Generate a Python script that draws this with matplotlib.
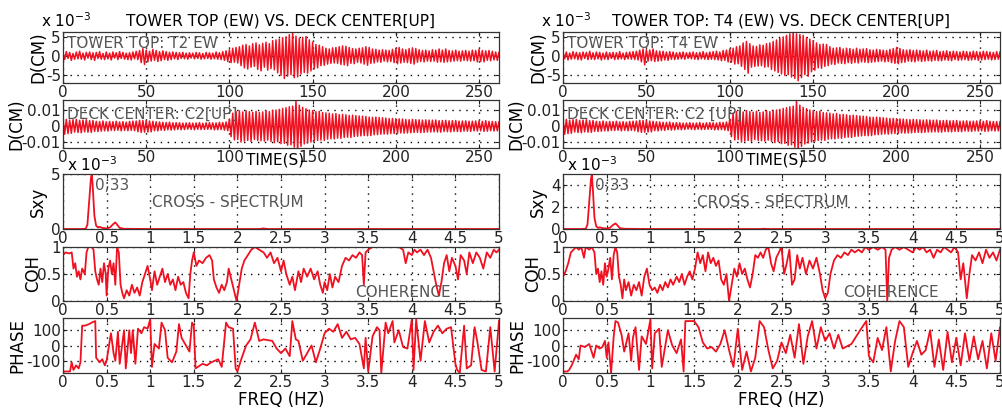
import numpy as np
import matplotlib
matplotlib.use("Agg")
import matplotlib.pyplot as plt

plt.rcParams['font.family'] = ['DejaVu Sans']

# ---------------- DATA ----------------
# displacement records sampled every 1 s, values in 1e-3 cm
tower_t2_ew = [
 0.8,-1.0,1.1,-0.7,0.9,-1.2,0.6,-0.9,1.0,-0.8,
 1.2,-0.9,0.7,-1.1,0.9,-0.6,1.0,-1.0,0.8,-1.2,
 0.9,-0.7,1.1,-0.9,0.6,-1.0,1.0,-0.8,0.7,-1.1,
 1.0,-0.6,0.8,-1.0,1.1,-0.7,0.9,-0.9,0.7,-1.0,
 0.8,-1.1,1.0,-0.8,1.2,-1.0,1.4,-1.8,1.9,-2.3,
 1.5,-1.6,1.2,-1.4,1.7,-1.2,1.4,-1.5,1.1,-1.3,
 1.3,-1.0,1.1,-1.2,0.9,-1.0,1.0,-0.8,0.9,-1.0,
 0.8,-0.7,0.9,-0.8,0.7,-0.9,0.8,-0.6,0.7,-0.8,
 0.9,-0.7,0.8,-0.9,0.6,-0.8,0.9,-0.7,0.8,-0.9,
 0.7,-0.8,1.0,-0.9,0.8,-1.0,1.1,-1.2,1.3,-1.5,
 1.6,-1.8,2.0,-1.7,2.2,-1.9,2.4,-2.6,2.8,-3.2,
 3.0,-3.5,2.6,-3.0,3.2,-2.8,3.4,-3.6,2.9,-4.0,
 3.3,-3.0,3.6,-3.8,3.2,-3.4,4.0,-3.7,4.2,-4.5,
 4.4,-5.2,4.8,-6.0,5.0,-5.4,5.6,-5.0,6.1,-5.8,
 5.2,-5.6,4.6,-4.8,4.9,-4.4,5.1,-4.6,4.2,-4.0,
 3.6,-3.4,3.0,-3.2,2.8,-2.6,2.4,-2.5,2.0,-2.2,
 1.8,-2.0,2.1,-1.9,2.2,-2.0,2.4,-2.3,2.6,-2.4,
 2.5,-2.6,2.2,-2.0,1.9,-2.1,1.8,-1.7,2.0,-1.9,
 2.1,-2.2,2.4,-2.5,2.2,-2.0,1.8,-1.9,1.7,-1.6,
 1.5,-1.7,1.6,-1.4,1.5,-1.6,1.4,-1.5,1.7,-1.8,
 2.0,-2.1,2.2,-1.9,1.8,-1.7,1.6,-1.8,1.9,-2.0,
 2.1,-2.2,1.9,-1.7,1.6,-1.5,1.4,-1.6,1.5,-1.4,
 1.3,-1.5,1.6,-1.4,1.5,-1.7,1.8,-1.6,1.5,-1.7,
 1.8,-1.6,1.4,-1.5,1.3,-1.4,1.5,-1.3,1.2,-1.4,
 1.3,-1.2,1.4,-1.3,1.2,-1.4,1.5,-1.3,1.4,-1.6,
 1.7,-1.5,1.4,-1.6,1.3,-1.2,1.4,-1.3,1.2,-1.1,
 1.0,-1.2,0.9]

tower_t4_ew = [
 0.9,-0.8,1.0,-1.1,0.7,-0.9,1.1,-0.8,0.9,-1.0,
 0.8,-1.1,1.0,-0.7,0.9,-1.0,1.2,-0.9,0.8,-1.0,
 1.0,-0.8,0.9,-1.1,0.7,-0.9,1.0,-1.0,0.8,-0.7,
 0.9,-1.0,0.8,-0.9,1.1,-0.8,0.7,-1.0,0.9,-0.8,
 1.0,-0.9,1.1,-1.0,1.2,-1.1,1.5,-1.6,1.8,-2.4,
 1.6,-1.4,1.5,-1.3,1.8,-1.5,1.3,-1.4,1.2,-1.3,
 1.2,-1.1,1.0,-1.2,1.1,-0.9,1.0,-1.0,0.8,-0.9,
 0.9,-0.8,1.0,-0.9,0.8,-0.7,0.9,-0.8,1.0,-0.9,
 0.8,-1.0,0.9,-0.8,1.1,-0.9,0.8,-1.0,1.0,-0.9,
 1.1,-1.0,1.2,-1.1,1.0,-1.3,1.4,-1.2,1.5,-1.6,
 1.8,-1.7,2.0,-2.2,2.4,-2.1,2.6,-2.8,3.4,-3.6,
 3.8,-4.6,3.2,-3.0,2.6,-2.8,2.5,-2.7,2.9,-2.6,
 2.8,-3.0,3.2,-2.9,3.4,-3.6,3.8,-4.0,4.2,-4.4,
 4.6,-4.8,5.0,-5.2,5.4,-5.0,5.8,-5.6,6.6,-6.0,
 5.8,-6.6,5.6,-5.8,5.4,-5.0,4.8,-5.4,4.4,-4.2,
 4.0,-3.8,3.4,-3.2,3.0,-3.3,3.1,-2.8,3.0,-2.6,
 2.4,-2.2,2.0,-2.3,2.1,-1.9,2.2,-2.0,1.8,-2.1,
 2.0,-1.8,1.9,-2.0,1.7,-1.8,2.0,-1.9,1.7,-1.6,
 1.8,-1.7,1.9,-1.8,1.6,-1.7,1.5,-1.6,1.7,-1.5,
 1.6,-1.4,1.5,-1.6,1.4,-1.5,1.7,-1.8,1.9,-2.0,
 2.2,-2.1,1.9,-1.8,1.6,-1.7,1.5,-1.4,1.6,-1.5,
 1.4,-1.6,1.5,-1.3,1.4,-1.5,1.3,-1.4,1.5,-1.3,
 1.2,-1.4,1.3,-1.2,1.4,-1.3,1.1,-1.3,1.2,-1.1,
 1.3,-1.2,1.1,-1.3,1.2,-1.0,1.1,-1.2,1.0,-1.1,
 1.2,-1.0,1.1,-1.2,1.0,-1.1,1.2,-1.0,1.1,-1.2,
 1.0,-1.1,1.2,-1.0,1.1,-0.9,1.0,-1.1,0.9,-1.0,
 1.1,-0.9,1.0]

deck_c2_up = [
 4.5,-5.0,4.2,-4.6,3.8,-4.4,4.0,-3.6,4.2,-3.9,
 3.6,-4.1,3.8,-3.5,4.0,-3.7,3.4,-3.8,3.5,-3.2,
 3.0,-3.3,2.8,-3.1,3.2,-2.9,2.7,-3.0,2.9,-2.6,
 2.8,-2.7,3.0,-2.5,2.6,-2.9,2.8,-2.6,2.5,-2.8,
 2.9,-2.6,3.1,-2.8,3.2,-3.4,3.6,-3.8,3.5,-3.7,
 3.4,-3.6,3.2,-3.5,3.0,-2.8,2.7,-2.9,2.6,-2.5,
 2.4,-2.6,2.3,-2.2,2.5,-2.4,2.1,-2.3,2.2,-2.0,
 2.1,-2.2,1.9,-2.1,2.0,-1.8,2.1,-2.0,1.9,-2.2,
 2.0,-1.9,2.2,-2.1,1.8,-2.0,2.1,-1.9,2.2,-2.0,
 2.1,-2.3,2.0,-2.2,2.4,-2.1,2.3,-2.5,2.6,-2.8,
 4.5,-6.5,8.0,-8.5,9.0,-8.2,9.5,-9.8,8.8,-9.2,
 9.6,-8.8,9.0,-9.4,8.6,-8.2,9.2,-8.8,8.4,-9.0,
 8.8,-9.2,9.6,-8.6,9.0,-9.4,9.8,-10.2,10.0,-9.6,
 10.4,-10.8,11.0,-10.6,11.4,-11.8,12.0,-11.5,12.4,-13.0,
 16.0,-15.0,13.0,-12.5,11.6,-11.0,10.8,-10.4,10.0,-9.8,
 9.6,-9.2,9.0,-8.8,9.2,-8.6,8.4,-8.8,8.2,-8.0,
 8.0,-7.8,7.6,-7.9,7.8,-7.4,7.2,-7.5,7.3,-7.0,
 7.0,-6.8,6.6,-7.0,6.8,-6.4,6.5,-6.2,6.3,-6.0,
 6.2,-5.8,6.0,-5.9,5.6,-5.8,5.5,-5.3,5.6,-5.2,
 5.4,-5.0,5.2,-4.8,5.0,-4.9,4.7,-4.6,4.8,-4.5,
 4.6,-4.4,4.5,-4.2,4.4,-4.3,4.1,-4.2,4.0,-4.1,
 4.2,-3.9,4.0,-3.8,3.9,-4.0,3.7,-3.8,3.9,-3.6,
 3.8,-3.6,3.7,-3.5,3.8,-3.6,3.4,-3.7,3.5,-3.3,
 3.6,-3.4,3.3,-3.5,3.4,-3.2,3.5,-3.3,3.1,-3.4,
 3.2,-3.0,3.3,-3.1,3.0,-3.2,3.1,-2.9,3.2,-3.0,
 3.1,-2.9,3.0,-3.2,3.4,-3.1,3.0,-2.8,2.9,-3.0,
 2.8,-2.9,2.7]

# cross spectrum (1e-3), read at selected frequencies (Hz)
sxy_freq = [0, 0.2, 0.26, 0.28, 0.30, 0.32, 0.33, 0.34, 0.36, 0.38, 0.40, 0.42,
            0.45, 0.50, 0.54, 0.57, 0.60, 0.62, 0.65, 0.70, 1.0, 2.25, 2.3, 2.35, 5.0]
sxy_t2 = [0, 0, 0.02, 0.4, 2.5, 4.6, 5.0, 4.0, 1.2, 0.3, 0.15, 0.2,
          0.1, 0.05, 0.15, 0.4, 0.6, 0.4, 0.1, 0.02, 0, 0, 0.05, 0, 0]
sxy_t4 = [0, 0, 0.02, 0.4, 2.4, 4.5, 4.9, 3.8, 1.0, 0.25, 0.1, 0.15,
          0.08, 0.04, 0.12, 0.35, 0.5, 0.35, 0.08, 0.02, 0, 0, 0.02, 0, 0]

coh_t2_freq = [0,0.03,0.07,0.1,0.12,0.14,0.16,0.18,0.2,0.22,0.25,0.27,0.29,0.33,0.35,0.37,0.39,0.41,0.43,0.45,
 0.47,0.49,0.5,0.52,0.54,0.56,0.58,0.6,0.62,0.64,0.66,0.68,0.7,0.73,0.76,0.79,0.82,0.85,0.88,0.91,
 0.94,0.97,1.0,1.02,1.05,1.08,1.11,1.14,1.17,1.2,1.23,1.26,1.29,1.32,1.35,1.38,1.41,1.44,1.46,1.48,
 1.5,1.53,1.56,1.6,1.64,1.68,1.71,1.73,1.76,1.79,1.82,1.85,1.88,1.9,1.93,1.96,1.99,2.02,2.05,2.08,
 2.12,2.16,2.2,2.25,2.3,2.34,2.38,2.42,2.46,2.5,2.53,2.56,2.6,2.63,2.66,2.7,2.73,2.76,2.8,2.84,
 2.88,2.92,2.95,2.98,3.0,3.03,3.06,3.09,3.12,3.16,3.2,3.24,3.28,3.32,3.36,3.4,3.43,3.45,3.47,3.5,
 3.55,3.65,3.75,3.85,3.9,3.93,3.96,4.0,4.03,4.06,4.1,4.14,4.18,4.22,4.25,4.28,4.31,4.34,4.37,4.4,
 4.43,4.46,4.5,4.53,4.56,4.6,4.63,4.66,4.7,4.74,4.78,4.82,4.86,4.9,4.94,4.97,5.0]
coh_t2 = [0.85,0.9,0.88,0.9,0.6,0.7,0.45,0.55,0.4,0.6,0.5,0.9,1.0,1.0,0.95,0.55,0.4,0.3,0.6,0.35,
 0.7,0.5,0.1,0.6,0.75,0.5,0.7,0.3,1.0,0.9,0.3,0.15,0.05,0.2,0.1,0.3,0.15,0.25,0.1,0.35,
 0.5,0.65,0.4,0.2,0.55,0.3,0.45,0.6,0.35,0.5,0.3,0.4,0.2,0.45,0.3,0.35,0.15,0.05,0.5,0.75,
 0.9,0.65,0.75,0.7,0.8,0.85,0.75,0.4,0.25,0.15,0.3,0.2,0.35,0.6,0.4,0.2,0.0,0.3,0.6,0.75,
 0.85,0.95,1.0,0.95,0.9,0.8,0.9,0.7,0.8,0.55,0.75,0.5,0.3,0.45,0.2,0.55,0.35,0.6,0.45,0.6,
 0.4,0.55,0.3,0.15,0.35,0.2,0.5,0.25,0.45,0.35,0.65,0.8,0.75,0.85,0.8,0.9,0.85,0.3,0.9,0.95,
 1.0,1.0,1.0,1.0,0.95,0.7,0.9,0.85,0.95,0.9,0.95,0.85,0.95,0.8,0.55,0.3,0.1,0.35,0.7,0.85,
 0.55,0.8,0.65,0.4,0.85,0.75,0.5,0.9,0.7,0.9,0.8,0.6,0.9,0.8,0.95,0.9,0.95]

coh_t4_freq = [0,0.03,0.06,0.09,0.12,0.15,0.18,0.21,0.24,0.26,0.3,0.33,0.36,0.38,0.4,0.42,0.44,0.46,0.48,0.5,
 0.52,0.54,0.56,0.58,0.6,0.62,0.64,0.66,0.68,0.7,0.72,0.75,0.78,0.81,0.84,0.87,0.9,0.93,0.96,0.99,
 1.02,1.05,1.08,1.11,1.14,1.17,1.2,1.23,1.26,1.3,1.33,1.36,1.39,1.42,1.45,1.48,1.51,1.54,1.57,1.6,
 1.63,1.66,1.69,1.72,1.75,1.78,1.81,1.84,1.87,1.9,1.93,1.96,1.99,2.02,2.05,2.08,2.11,2.14,2.17,2.2,
 2.23,2.26,2.29,2.32,2.35,2.38,2.41,2.44,2.47,2.5,2.53,2.56,2.59,2.62,2.65,2.68,2.71,2.74,2.78,2.82,
 2.86,2.9,2.94,2.97,3.0,3.03,3.06,3.1,3.14,3.18,3.22,3.26,3.3,3.34,3.38,3.42,3.46,3.5,3.55,3.6,
 3.65,3.69,3.71,3.73,3.76,3.8,3.85,3.9,3.95,4.0,4.04,4.08,4.12,4.16,4.2,4.24,4.28,4.32,4.36,4.4,
 4.44,4.48,4.52,4.55,4.58,4.62,4.65,4.68,4.72,4.76,4.8,4.84,4.88,4.92,4.96,5.0]
coh_t4 = [0.45,0.55,0.7,0.9,0.95,1.0,0.95,1.0,0.8,1.0,0.95,1.0,0.9,0.5,0.6,0.35,0.55,0.3,0.7,0.45,
 0.6,0.8,0.4,0.85,1.0,0.9,0.45,0.3,0.05,0.4,0.2,0.35,0.1,0.3,0.2,0.35,0.1,0.45,0.6,0.3,
 0.2,0.25,0.15,0.3,0.2,0.35,0.25,0.4,0.3,0.45,0.35,0.5,0.3,0.45,0.55,0.4,0.6,0.9,0.7,0.85,
 0.55,0.9,0.7,0.8,0.65,0.75,0.4,0.3,0.5,0.0,0.3,0.6,0.45,0.7,0.5,0.6,0.4,0.25,0.5,0.85,
 0.8,0.9,0.8,0.95,1.0,0.7,0.55,0.8,0.9,1.0,0.5,0.7,0.95,0.3,0.4,0.85,0.6,0.8,0.5,0.75,
 0.6,0.8,0.5,0.2,0.05,0.15,0.5,0.75,0.85,0.8,0.9,0.85,0.95,0.9,0.95,0.9,1.0,0.95,1.0,0.95,
 1.0,0.95,0.0,0.8,0.95,1.0,0.95,1.0,0.95,0.9,1.0,0.95,1.0,0.9,0.95,0.8,0.95,0.9,1.0,0.95,
 0.9,1.0,0.9,0.4,0.7,0.05,0.5,0.85,0.75,0.9,0.7,0.95,0.8,0.9,0.75,0.95]

phase_t2_freq = [0,0.08,0.1,0.12,0.15,0.18,0.2,0.22,0.25,0.3,0.33,0.37,0.38,0.42,0.45,0.48,0.5,0.55,0.58,0.6,
 0.63,0.65,0.7,0.72,0.76,0.78,0.8,0.83,0.86,0.9,0.93,0.97,1.0,1.02,1.05,1.1,1.13,1.17,1.2,1.25,
 1.3,1.33,1.36,1.4,1.45,1.48,1.5,1.52,1.6,1.65,1.7,1.78,1.82,1.87,1.9,1.95,1.98,2.0,2.05,2.1,
 2.15,2.2,2.25,2.3,2.4,2.45,2.5,2.55,2.6,2.63,2.67,2.7,2.75,2.8,2.85,2.9,2.95,3.0,3.05,3.1,
 3.15,3.2,3.25,3.3,3.35,3.4,3.45,3.47,3.5,3.55,3.6,3.63,3.65,3.7,3.73,3.78,3.8,3.85,3.9,3.95,
 4.0,4.02,4.05,4.1,4.15,4.2,4.25,4.3,4.35,4.4,4.45,4.5,4.52,4.55,4.6,4.63,4.68,4.72,4.75,4.8,
 4.85,4.9,4.95,5.0]
phase_t2 = [-170,-170,-110,-160,-130,-150,-110,130,130,140,150,160,-80,-110,-90,-130,-100,80,-50,-100,
 90,-120,100,-150,100,-50,100,-120,110,80,120,110,170,-140,10,-20,150,100,-80,-110,
 -40,140,50,10,-40,150,130,-150,-120,-130,-110,-90,-140,150,120,110,-150,-170,-80,0,
 40,150,30,40,30,-20,-50,-20,-70,160,40,30,-100,-50,0,-110,-20,80,110,90,
 140,50,90,40,50,10,-150,50,-170,60,120,100,-180,150,80,160,20,100,-10,-20,
 170,-160,170,-100,160,20,90,130,80,110,120,-120,-160,-180,130,-150,-130,120,30,-160,
 -170,120,-170,160]

phase_t4_freq = [0,0.05,0.07,0.1,0.15,0.18,0.2,0.25,0.3,0.35,0.38,0.42,0.45,0.48,0.5,0.52,0.55,0.58,0.6,0.63,
 0.67,0.7,0.75,0.78,0.8,0.83,0.87,0.9,0.95,1.0,1.02,1.05,1.1,1.13,1.2,1.25,1.3,1.35,1.38,1.4,
 1.5,1.55,1.6,1.65,1.7,1.75,1.8,1.85,1.9,1.95,2.0,2.05,2.1,2.15,2.2,2.25,2.3,2.35,2.4,2.45,
 2.5,2.55,2.6,2.65,2.7,2.75,2.8,2.85,2.9,2.95,3.0,3.05,3.1,3.15,3.2,3.3,3.4,3.47,3.5,3.55,
 3.6,3.65,3.7,3.75,3.8,3.85,3.9,3.95,4.0,4.05,4.1,4.15,4.2,4.25,4.3,4.35,4.4,4.45,4.5,4.55,
 4.6,4.65,4.7,4.75,4.8,4.85,4.9,4.95,5.0]
phase_t4 = [-170,-170,-160,-130,-60,-90,0,-10,10,-80,0,-20,-10,30,-80,20,-180,60,160,150,
 70,-40,80,-100,50,120,-160,60,10,170,-150,80,110,-140,100,0,-50,40,-170,160,
 160,120,20,-20,-10,-40,10,100,-30,-140,110,-160,-40,-170,-80,160,120,-30,-150,-100,
 20,-50,70,-80,140,-120,60,160,-20,120,30,80,-20,70,-20,10,100,160,-70,-110,
 50,-30,120,-170,30,160,120,-140,-50,30,-60,-30,100,-140,40,-160,90,-110,50,-130,
 80,-100,60,-90,30,-150,80,-100,120]

time_s = np.arange(len(tower_t2_ew))   # 1 s sampling

# ---------------- STYLE / LAYOUT ----------------
RED = '#f01020'
GRAY = '#555555'
FS = 11
fig = plt.figure(figsize=(10.02, 4.11), dpi=100)

H = 411.0
W = 1002.0
rows = [(32, 83), (100, 148), (174, 229), (247, 301), (318, 373)]
cols = [(63, 499), (563, 1000)]


def make_ax(col, row):
    x0, x1 = cols[col]
    y0, y1 = rows[row]
    ax = fig.add_axes([x0 / W, (H - y1) / H, (x1 - x0) / W, (y1 - y0) / H])
    for s in ax.spines.values():
        s.set_color('#333333')
        s.set_linewidth(0.9)
    ax.tick_params(direction='in', length=3, width=0.8, labelsize=FS, pad=1.5,
                   top=True, right=True, colors='#222222')
    ax.grid(True, color='black', linestyle=(0, (1, 4)), linewidth=1.0)
    return ax


def grid_label(ax, xticks, xlim):
    ax.set_xlim(*xlim)
    ax.set_xticks(xticks)
    ax.set_xticklabels([('%g' % v) for v in xticks])


freq_ticks = [0, 0.5, 1, 1.5, 2, 2.5, 3, 3.5, 4, 4.5, 5]
time_ticks = [0, 50, 100, 150, 200, 250]

panels = [
    dict(tower=tower_t2_ew, tlabel='TOWER TOP: T2 EW', dlabel='DECK CENTER: C2[UP]',
         sxy=sxy_t2, sxy_ticks=[0, 5], sxy_lim=(0, 5.0),
         coh_f=coh_t2_freq, coh=coh_t2, ph_f=phase_t2_freq, ph=phase_t2,
         title='TOWER TOP (EW) VS. DECK CENTER[UP]', cs_x=1.02, coh_x=3.35),
    dict(tower=tower_t4_ew, tlabel='TOWER TOP: T4 EW', dlabel='DECK CENTER: C2 [UP]',
         sxy=sxy_t4, sxy_ticks=[0, 2, 4], sxy_lim=(0, 4.95),
         coh_f=coh_t4_freq, coh=coh_t4, ph_f=phase_t4_freq, ph=phase_t4,
         title='TOWER TOP: T4 (EW) VS. DECK CENTER[UP]', cs_x=1.53, coh_x=3.2),
]

LW = 1.3
for c, p in enumerate(panels):
    # --- tower displacement
    ax = make_ax(c, 0)
    ax.plot(time_s, p['tower'], color=RED, lw=1.1)
    grid_label(ax, time_ticks, (0, 262))
    ax.set_ylim(-7.2, 6.3)
    ax.set_yticks([-5, 0, 5])
    ax.set_yticklabels(['-5', '0', '5'])
    ax.set_ylabel('D(CM)', fontsize=FS + 1, labelpad=-1)
    ax.text(0.01, 0.78, p['tlabel'], transform=ax.transAxes, color=GRAY,
            fontsize=FS, va='center', ha='left')
    ax.text(-0.05, 1.04, r'x 10$^{-3}$', transform=ax.transAxes, fontsize=FS,
            ha='left', va='bottom')
    ax.set_title(p['title'], fontsize=FS, pad=5)

    # --- deck displacement
    ax = make_ax(c, 1)
    ax.plot(time_s, deck_c2_up, color=RED, lw=1.1)
    grid_label(ax, time_ticks, (0, 262))
    ax.set_ylim(-13.5, 16.2)
    ax.set_yticks([-10, 0, 10])
    ax.set_yticklabels(['-0.01', '0', '0.01'])
    ax.set_ylabel('D(CM)', fontsize=FS + 1, labelpad=-3)
    ax.text(0.01, 0.7, p['dlabel'], transform=ax.transAxes, color=GRAY,
            fontsize=FS, va='center', ha='left')
    ax.text(0.486, -0.26, 'TIME(S)', transform=ax.transAxes, fontsize=FS,
            ha='center', va='center')

    # --- cross spectrum
    ax = make_ax(c, 2)
    ax.plot(sxy_freq, p['sxy'], color=RED, lw=LW)
    grid_label(ax, freq_ticks, (0, 5))
    ax.set_ylim(*p['sxy_lim'])
    ax.set_yticks(p['sxy_ticks'])
    ax.set_yticklabels([str(v) for v in p['sxy_ticks']])
    ax.set_ylabel('Sxy', fontsize=FS + 1, labelpad=3)
    ax.text(0.37, 0.8, '0;33', transform=ax.get_xaxis_transform(), color=GRAY,
            fontsize=FS, va='center', ha='left')
    ax.text(p['cs_x'], 0.48, 'CROSS - SPECTRUM', color=GRAY, fontsize=FS,
            va='center', ha='left', transform=ax.get_xaxis_transform())
    ax.text(0.01, 1.0, r'x 10$^{-3}$', transform=ax.transAxes, fontsize=FS,
            ha='left', va='bottom')

    # --- coherence
    ax = make_ax(c, 3)
    ax.plot(p['coh_f'], p['coh'], color=RED, lw=LW)
    grid_label(ax, freq_ticks, (0, 5))
    ax.set_ylim(0, 1)
    ax.set_yticks([0, 0.5, 1])
    ax.set_yticklabels(['0', '0.5', '1'])
    ax.set_ylabel('COH', fontsize=FS + 1, labelpad=-4)
    ax.text(p['coh_x'], 0.16, 'COHERENCE', color=GRAY, fontsize=FS,
            va='center', ha='left', transform=ax.get_xaxis_transform())

    # --- phase
    ax = make_ax(c, 4)
    ax.plot(p['ph_f'], p['ph'], color=RED, lw=LW)
    grid_label(ax, freq_ticks, (0, 5))
    ax.set_ylim(-180, 180)
    ax.set_yticks([-100, 0, 100])
    ax.set_yticklabels(['-100', '0', '100'])
    ax.set_ylabel('PHASE', fontsize=FS + 1, labelpad=0)
    ax.set_xlabel('FREQ (HZ)', fontsize=FS + 1, labelpad=1)

fig.savefig('out.png', dpi=100)
